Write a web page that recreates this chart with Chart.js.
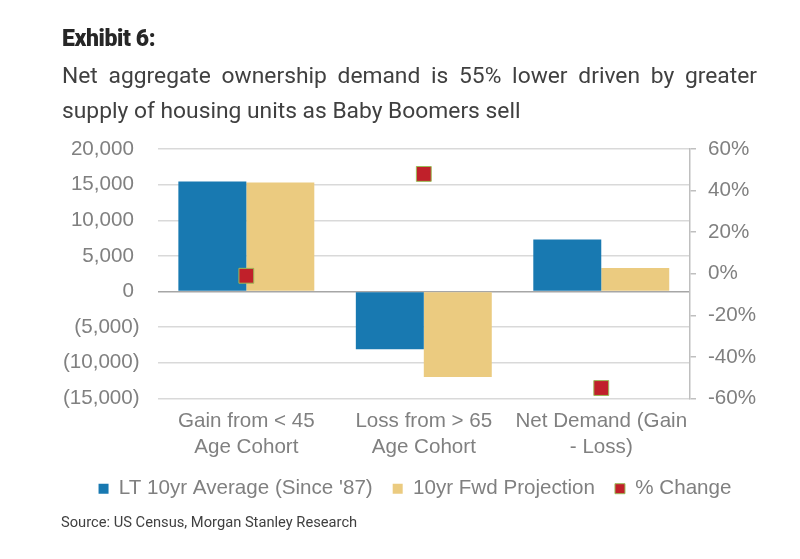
<!DOCTYPE html>
<html>
<head>
<meta charset="utf-8">
<script src="https://cdn.jsdelivr.net/npm/chart.js@4.4.1/dist/chart.umd.min.js"></script>
<style>
  body { margin: 0; background: #fff; }
  #wrap { position: relative; width: 800px; height: 559px; overflow: hidden; }
  #myChart { position: absolute; left: 0; top: 0; }
  .txt { position: absolute; font-family: Roboto, sans-serif; white-space: nowrap; }
  #exhibit { left: 62px; top: 25px; font-size: 23px; font-weight: 900; color: #262626; line-height: 27px; letter-spacing: -0.4px; }
  #sub1 { left: 62px; top: 58px; width: 695px; font-size: 22.8px; color: #404040; line-height: 36px; text-align: justify; text-align-last: justify; }
  #sub2 { left: 62px; top: 93px; font-size: 22.8px; color: #404040; line-height: 36px; }
  #source { left: 61px; top: 513px; font-size: 14.7px; color: #404040; line-height: 18px; }
</style>
</head>
<body>
<div id="wrap">
  <canvas id="myChart" width="800" height="559"></canvas>
  <div class="txt" id="exhibit">Exhibit 6:</div>
  <div class="txt" id="sub1">Net aggregate ownership demand is 55% lower driven by greater</div>
  <div class="txt" id="sub2">supply of housing units as Baby Boomers sell</div>
  <div class="txt" id="source">Source: US Census, Morgan Stanley Research</div>
</div>
<script>
const categories = [['Gain from < 45', 'Age Cohort'], ['Loss from > 65', 'Age Cohort'], ['Net Demand (Gain', '- Loss)']]
const ltAverage = [15450, -8100, 7300]
const fwdProjection = [15300, -12000, 3300]
const pctChange = [-0.01, 0.48, -0.55]
const seriesNames = ["LT 10yr Average (Since '87)", '10yr Fwd Projection', '% Change']
const colors = ['#1879b1', '#ebcb80', '#c0202a']

const greyText = '#808080'
const tickFont = { family: '"Liberation Sans", Arial, sans-serif', size: 20.6 }

let barChart = document.getElementById('myChart')

new Chart(barChart, {
    type: 'bar',
    data: {
        labels: categories,
        datasets: [
            {
                label: seriesNames[0],
                data: ltAverage,
                yAxisID: 'y',
                backgroundColor: colors[0],
                categoryPercentage: 0.766,
                barPercentage: 1
            },
            {
                label: seriesNames[1],
                data: fwdProjection,
                yAxisID: 'y',
                backgroundColor: colors[1],
                categoryPercentage: 0.766,
                barPercentage: 1
            },
            {
                // markers sit on top of the bars
                type: 'line',
                label: seriesNames[2],
                data: pctChange,
                yAxisID: 'y1',
                showLine: false,
                order: -1,
                backgroundColor: colors[2],
                borderColor: '#9bbb59',
                borderWidth: 1,
                pointStyle: 'rect',
                pointRadius: 10.5,
                pointHoverRadius: 10.5,
                pointBackgroundColor: colors[2],
                pointBorderColor: '#9bbb59',
                pointBorderWidth: 1
            }
        ]
    },
    options: {
        responsive: false,
        animation: false,
        layout: { padding: { left: 30, right: 0, top: 149, bottom: 50 } },
        plugins: {
            tooltip: { enabled: false },
            legend: {
                position: 'bottom',
                labels: {
                    sort: (a, b) => a.datasetIndex - b.datasetIndex,
                    boxWidth: 10,
                    boxHeight: 10,
                    padding: 20,
                    color: greyText,
                    font: tickFont
                }
            }
        },
        scales: {
            x: {
                grid: { display: false, drawTicks: false },
                border: { display: false },
                ticks: { color: greyText, font: { ...tickFont, lineHeight: 1.26 }, padding: 10, maxRotation: 0, autoSkip: false },
                afterFit: s => { s.height = 60 }
            },
            y: {
                position: 'left',
                min: -15000,
                max: 20000,
                ticks: {
                    stepSize: 5000,
                    color: greyText,
                    font: tickFont,
                    padding: 18,
                    callback: v => v < 0 ? '(' + Math.abs(v).toLocaleString('en-US') + ')' : v.toLocaleString('en-US') + ' '
                },
                grid: {
                    drawTicks: false,
                    lineWidth: 1.5,
                    color: ctx => ctx.tick && ctx.tick.value === 0 ? '#a6a6a6' : '#d9d9d9'
                },
                border: { display: false },
                afterFit: s => { s.width = 127.6 }
            },
            y1: {
                position: 'right',
                min: -0.6,
                max: 0.6,
                ticks: {
                    stepSize: 0.2,
                    color: greyText,
                    font: tickFont,
                    padding: 12,
                    callback: v => Math.round(v * 100) + '%'
                },
                grid: { drawOnChartArea: false, drawTicks: true, tickLength: 6, color: '#bfbfbf', lineWidth: 1.5 },
                border: { display: true, color: '#bfbfbf', width: 1.5 },
                afterFit: s => { s.width = 110 }
            }
        }
    }
})
</script>
</body>
</html>
